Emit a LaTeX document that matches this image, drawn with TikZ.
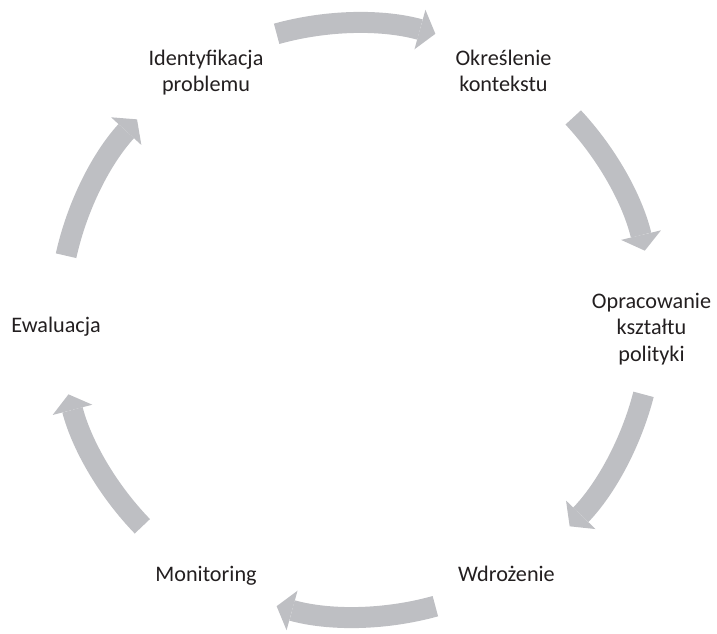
\documentclass[tikz,border=0pt]{standalone}
\usepackage{fontspec}
\setmainfont{Carlito}
\providecommand{\Cr}{297}
\providecommand{\Cfont}{\fontsize{22.2}{26.5}\selectfont}
\usetikzlibrary{arrows.meta}
\definecolor{arrowgray}{RGB}{190,191,195}
\definecolor{textgray}{RGB}{35,31,32}
\tikzset{
  lbl/.style={align=center, inner sep=0pt, anchor=base, text=textgray, font=\Cfont},
  edge/.style={draw=arrowgray, line width=21pt, line cap=butt,
               -{Triangle[width=41pt, length=16pt, line width=0pt]}}
}
\begin{document}
\begin{tikzpicture}[x=1pt, y=1pt]
\useasboundingbox (0,0) rectangle (717,633);

\coordinate (c) at (356,313);

% base anchor sits on the last line
\node (idp) [lbl] at (206,541) {Identyfikacja\\problemu};
\node (okr) [lbl] at (503.5,541) {Określenie\\kontekstu};
\node (opr) [lbl] at (651.5,272) {Opracowanie\\kształtu\\polityki};
\node (wdr) [lbl] at (506.5,52) {Wdrożenie};
\node (mon) [lbl] at (206,52) {Monitoring};
\node (ewa) [lbl] at (56,301) {Ewaluacja};

% cycle arrows round the centre
\foreach \sa/\ea in {105.5/74.5, 43/13.5, -14.5/-44,
                     -74.5/-105.5, 224/194.5, 167.5/137.5}{
  \draw[edge]
    ([shift={(\sa:\Cr)}]c) arc[start angle=\sa, end angle=\ea, radius=\Cr];
}

\end{tikzpicture}
\end{document}
